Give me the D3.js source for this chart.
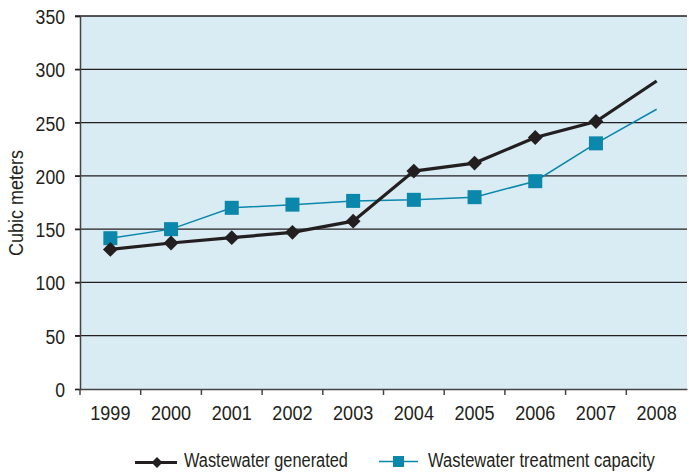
<!DOCTYPE html>
<html><head><meta charset="utf-8">
<script src="https://cdn.jsdelivr.net/npm/d3@7"></script>
<style>
body{margin:0;background:#fff;}
text{font-family:"Liberation Sans Narrow","Liberation Sans",Arial,sans-serif;fill:#231f20;}
</style></head>
<body><svg id="c" width="689" height="473"></svg>
<script>
const years = ["1999","2000","2001","2002","2003","2004","2005","2006","2007","2008"];
const generated = [131, 137, 142, 147, 157.5, 204.5, 212, 236, 251, 289];
const capacity = [141.5, 150, 170, 173, 176.5, 177.5, 180, 195, 230.5, 262.5];
const yTicks = [0, 50, 100, 150, 200, 250, 300, 350];
const seriesNames = ["Wastewater generated", "Wastewater treatment capacity"];

const svg = d3.select("#c");
const m = {l:80, r:2, t:16, b:84};
const W = 689, H = 473;
const x = d3.scaleBand().domain(years).range([m.l, W - m.r]);
const y = d3.scaleLinear().domain([0, 350]).range([H - m.b, m.t]);
const teal = "#0a87ab", dark = "#231f20";
const FS = 21;

// horizontally condense text via transform (keeps anchor point fixed)
function condense(sel, f) {
  sel.each(function() {
    const t = d3.select(this);
    const x0 = +t.attr("x") || 0, y0 = +t.attr("y") || 0;
    t.attr("x", 0).attr("y", 0).attr("transform", `translate(${x0},${y0}) scale(${f},1)`);
  });
}
function fitText(g, x0, y0, str, target) {
  const t = g.append("text").attr("font-size", FS).text(str);
  const w = t.node().getComputedTextLength();
  t.attr("transform", `translate(${x0},${y0}) scale(${target / w},1)`);
  return t;
}

svg.append("rect").attr("x", m.l).attr("y", m.t).attr("width", W - m.r - m.l).attr("height", y(0) - m.t).attr("fill", "#d9ebf3");

// gridlines
svg.append("g").selectAll("line").data(yTicks.filter(d => d > 0)).join("line")
  .attr("x1", m.l - 5).attr("x2", W - m.r).attr("y1", d => y(d)).attr("y2", d => y(d))
  .attr("stroke", dark).attr("stroke-width", 1.3);

// y axis
const ya = svg.append("g").attr("transform", `translate(${m.l},0)`)
  .call(d3.axisLeft(y).tickValues(yTicks).tickSize(5).tickPadding(10));
ya.select(".domain").attr("stroke", "#444").attr("stroke-width", 1.5);
ya.selectAll(".tick line").attr("stroke", dark).attr("stroke-width", 1.3);
ya.selectAll("text").attr("font-size", FS).attr("fill", dark).attr("font-family", null).attr("dy", "0.36em");
condense(ya.selectAll("text"), 0.84);

// x axis
const xa = svg.append("g").attr("transform", `translate(0,${y(0)})`)
  .call(d3.axisBottom(x).tickSize(0).tickPadding(16));
xa.select(".domain").attr("stroke", "#444").attr("stroke-width", 1.5);
xa.selectAll("text").attr("font-size", FS).attr("fill", dark).attr("font-family", null);
condense(xa.selectAll("text"), 0.86);
xa.selectAll(".sep").data(years).join("line").attr("class", "sep")
  .attr("x1", d => x(d)).attr("x2", d => x(d)).attr("y1", 0).attr("y2", 6)
  .attr("stroke", "#444").attr("stroke-width", 1.5);

{
  const t = svg.append("text").attr("text-anchor", "middle").attr("font-size", FS).text("Cubic meters");
  const w = t.node().getComputedTextLength();
  t.attr("transform", `translate(23,${(m.t + y(0)) / 2 + 0.5}) rotate(-90) scale(${106 / w},1)`);
}

const cx = d => x(d) + x.bandwidth() / 2;
const line = d3.line().x(d => cx(d[0])).y(d => y(d[1]));

// capacity series
svg.append("path").datum(years.map((yr, i) => [yr, capacity[i]])).attr("d", line)
  .attr("fill", "none").attr("stroke", teal).attr("stroke-width", 1.5);
svg.append("g").selectAll("rect").data(years.slice(0, 9).map((yr, i) => [yr, capacity[i]])).join("rect")
  .attr("x", d => cx(d[0]) - 7).attr("y", d => y(d[1]) - 7).attr("width", 14).attr("height", 14)
  .attr("fill", teal);

// generated series
svg.append("path").datum(years.map((yr, i) => [yr, generated[i]])).attr("d", line)
  .attr("fill", "none").attr("stroke", dark).attr("stroke-width", 3.2);
const diamond = d3.symbol().type(d3.symbolSquare).size(110);
svg.append("g").selectAll("path").data(years.slice(0, 9).map((yr, i) => [yr, generated[i]])).join("path")
  .attr("d", diamond()).attr("transform", d => `translate(${cx(d[0])},${y(d[1])}) rotate(45)`)
  .attr("fill", dark);

// legend
const lg = svg.append("g");
lg.append("line").attr("x1", 135).attr("x2", 177).attr("y1", 462.5).attr("y2", 462.5).attr("stroke", dark).attr("stroke-width", 3.2);
lg.append("path").attr("d", d3.symbol().type(d3.symbolSquare).size(60)()).attr("transform", "translate(157,462.5) rotate(45)").attr("fill", dark);
fitText(lg, 184, 467, seriesNames[0], 164);
lg.append("line").attr("x1", 379).attr("x2", 418).attr("y1", 461.5).attr("y2", 461.5).attr("stroke", teal).attr("stroke-width", 1.5);
lg.append("rect").attr("x", 393).attr("y", 456).attr("width", 11).attr("height", 11).attr("fill", teal);
fitText(lg, 428, 467, seriesNames[1], 227);
</script></body></html>
